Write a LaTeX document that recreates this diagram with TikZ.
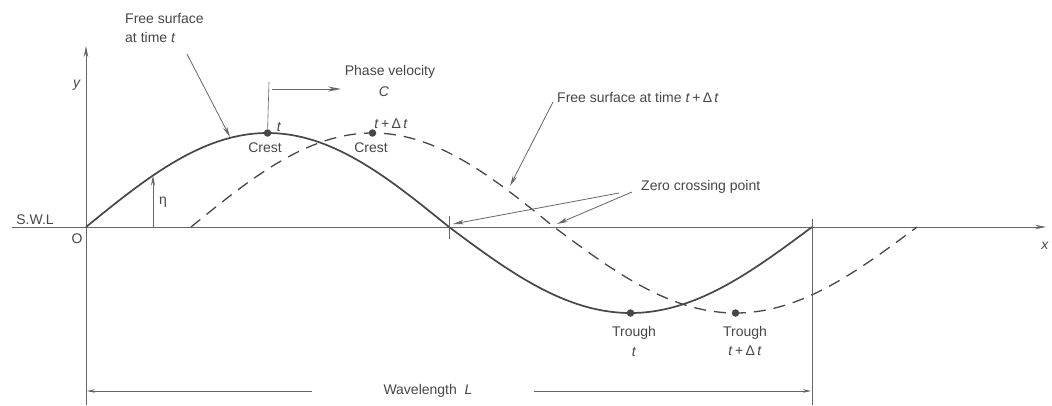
\documentclass[tikz,border=0pt]{standalone}
\usepackage{fontspec}
\setmainfont{Liberation Sans}
\usetikzlibrary{arrows.meta}
\definecolor{ink}{HTML}{474747}
\definecolor{linec}{HTML}{666666}
\definecolor{wavec}{HTML}{474747}
\begin{document}
\begin{tikzpicture}[x=1pt,y=-1pt,
  lbl/.style={text=ink, font=\fontsize{14}{19}\selectfont, inner sep=0pt},
  axisline/.style={draw=linec, line width=0.9pt},
  thinline/.style={draw=linec, line width=0.6pt},
  wave/.style={draw=wavec, line width=1.7pt},
  dwave/.style={draw=wavec, line width=1.3pt, dash pattern=on 12pt off 8pt},
  lead/.style={draw=linec, line width=0.8pt, -{Stealth[length=11pt,width=4.5pt]}},
  dimarrow/.style={draw=linec, line width=0.7pt, -{Stealth[length=8pt,width=3.5pt]}},
  wdot/.style={circle, fill=wavec, inner sep=0pt, minimum size=7.5pt}
]
\fill[white] (0,0) rectangle (1052,405);
\useasboundingbox (0,0) rectangle (1052,405);

% axes
\coordinate (xs) at (12,227);
\coordinate (xe) at (1046,227);
\coordinate (yb) at (86,405);
\coordinate (yt) at (86,46);
\draw[axisline, -{Stealth[length=11pt,width=4.5pt]}] (xs) -- (xe);
\draw[axisline, -{Stealth[length=11pt,width=4.5pt]}] (yb) -- (yt);

% waves
\draw[wave] plot[domain=86:812, samples=240]
  (\x, {227 - ((sin(0.495868*(\x-86)) > 0) ? 94 : 86)*sin(0.495868*(\x-86))});
\draw[dwave] plot[domain=191:917, samples=240]
  (\x, {227 - ((sin(0.495868*(\x-191)) > 0) ? 94 : 86)*sin(0.495868*(\x-191))});

% ticks and wavelength guide
\coordinate (zt1) at (449,216);
\coordinate (zt2) at (449,239);
\draw[thinline] (zt1) -- (zt2);
\coordinate (lt1) at (812,219);
\coordinate (lt2) at (812,405);
\draw[thinline] (lt1) -- (lt2);

% dots
\node[wdot] (c1) at (267.5,133) {};
\node[wdot] (c2) at (372.5,133) {};
\node[wdot] (t1) at (630.5,313) {};
\node[wdot] (t2) at (735.5,313) {};

% labels
\node[lbl] (swl) at (35,220) {S.W.L};
\node[lbl] (o) at (77,239) {O};
\node[lbl] (ylab) at (77,85) {\textit{y}};
\node[lbl] (xlab) at (1045,246) {\textit{x}};
\node[lbl, align=left, anchor=north west] (fs1) at (125,13) {Free surface\\at time \textit{t}};
\node[lbl] (pv) at (390,72) {Phase velocity};
\node[lbl] (cc) at (384,92) {\textit{C}};
\node[lbl] (tc1) at (279,127) {\textit{t}};
\node[lbl] (cr1) at (265,148) {Crest};
\node[lbl] (tc2) at (391,124) {\textit{t}\,+\,Δ\,\textit{t}};
\node[lbl] (cr2) at (371,148) {Crest};
\node[lbl] (eta) at (163,202) {η};
\node[lbl, anchor=west] (fs2) at (557,97) {Free surface at time \textit{t}\,+\,Δ\,\textit{t}};
\node[lbl, anchor=west] (zc) at (641,187) {Zero crossing point};
\node[lbl] (tr1) at (634,333) {Trough};
\node[lbl] (tt1) at (634,352) {\textit{t}};
\node[lbl] (tr2) at (745,333) {Trough};
\node[lbl] (tt2) at (745,351) {\textit{t}\,+\,Δ\,\textit{t}};
\node[lbl] (wl) at (428,391) {Wavelength\ \ \textit{L}};

% crest marker and phase velocity
\coordinate (cv) at (269,82);
\draw[thinline] (cv) -- (c1);
\coordinate (pa1) at (272,89);
\coordinate (pa2) at (341,89);
\draw[draw=linec, line width=0.8pt, -{Stealth[length=13pt,width=5pt]}] (pa1) -- (pa2);

% eta arrow
\coordinate (e0) at (153,227);
\coordinate (e1) at (153,175.5);
\draw[draw=linec, line width=0.8pt, -{Stealth[length=10pt,width=4pt]}] (e0) -- (e1);

% leaders
\coordinate (l1s) at (187,54);
\coordinate (l1e) at (230,137);
\draw[lead] (l1s) -- (l1e);
\coordinate (l2s) at (553,102);
\coordinate (l2e) at (510,186);
\draw[lead] (l2s) -- (l2e);
\coordinate (z1s) at (619,193);
\coordinate (z1e) at (453,224);
\draw[lead] (z1s) -- (z1e);
\coordinate (z2s) at (632,192);
\coordinate (z2e) at (557,224);
\draw[lead] (z2s) -- (z2e);

% wavelength dimension
\coordinate (w1s) at (312,391);
\coordinate (w1e) at (87,391);
\draw[dimarrow] (w1s) -- (w1e);
\coordinate (w2s) at (534,391);
\coordinate (w2e) at (811,391);
\draw[dimarrow] (w2s) -- (w2e);
\end{tikzpicture}
\end{document}
